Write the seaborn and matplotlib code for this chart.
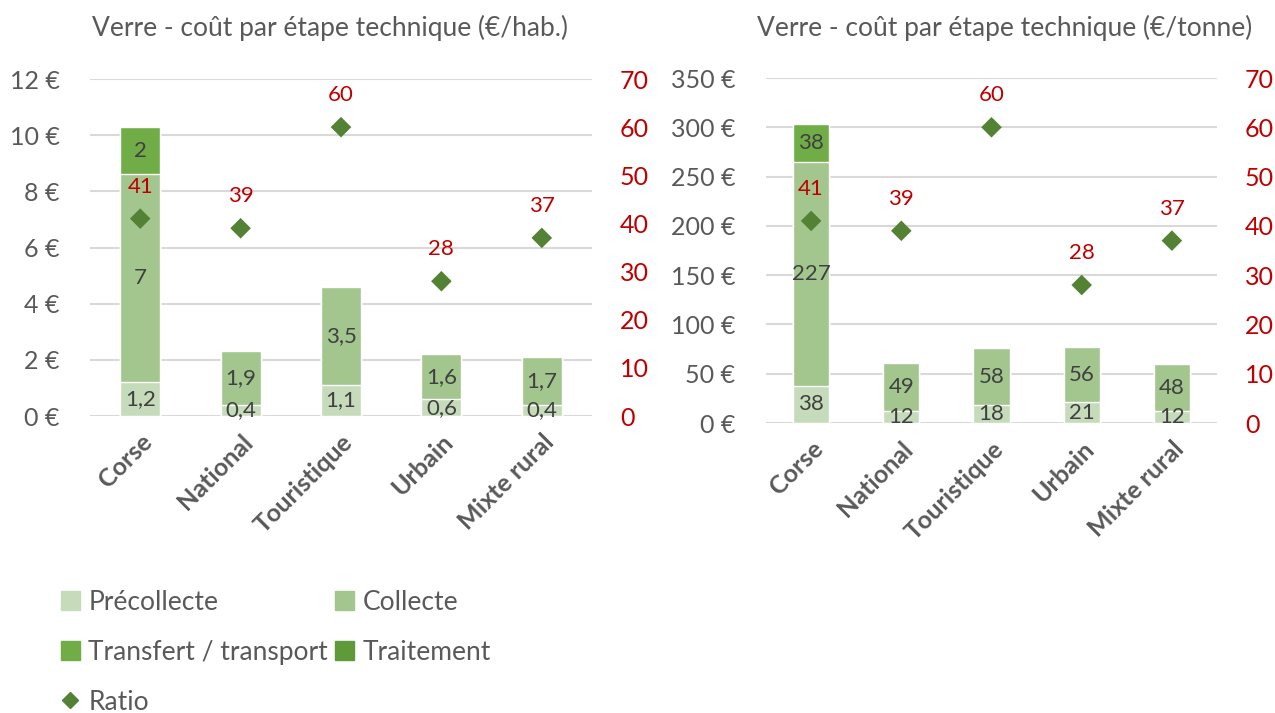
import numpy as np
import pandas as pd
import matplotlib
matplotlib.use("Agg")
import matplotlib.pyplot as plt
from matplotlib.lines import Line2D
from matplotlib.patches import Patch
import seaborn as sns

# data
categories = ["Corse", "National", "Touristique", "Urbain", "Mixte rural"]
ratio = [41, 39, 60, 28, 37]

hab_precollecte = [1.2, 0.4, 1.1, 0.6, 0.4]
hab_collecte = [7.4, 1.9, 3.5, 1.6, 1.7]
hab_transfert = [1.7, 0, 0, 0, 0]
hab_traitement = [0, 0, 0, 0, 0]
hab_labels_pre = ["1,2", "0,4", "1,1", "0,6", "0,4"]
hab_labels_col = ["7", "1,9", "3,5", "1,6", "1,7"]
hab_labels_tr = ["2", "", "", "", ""]

t_precollecte = [38, 12, 18, 21, 12]
t_collecte = [227, 49, 58, 56, 48]
t_transfert = [38, 0, 0, 0, 0]
t_traitement = [0, 0, 0, 0, 0]
t_labels_pre = ["38", "12", "18", "21", "12"]
t_labels_col = ["227", "49", "58", "56", "48"]
t_labels_tr = ["38", "", "", "", ""]

c_pre = "#C5DBBA"
c_col = "#A3C68F"
c_tr = "#70AD47"
c_trait = "#5F9A3A"
c_ratio = "#548235"
red = "#C00000"
grey = "#595959"

sns.set_theme(style="white")
plt.rcParams["font.family"] = ["Lato", "DejaVu Sans"]

fig = plt.figure(figsize=(12.75, 7.13), dpi=100)


def draw(ax, pre, col, tr, trait, labels, ymax, ystep):
    df = pd.DataFrame({"cat": categories, "pre": pre, "col": col, "tr": tr, "trait": trait})
    df["s1"] = df["pre"]
    df["s2"] = df["s1"] + df["col"]
    df["s3"] = df["s2"] + df["tr"]
    df["s4"] = df["s3"] + df["trait"]
    for key, color in [("s4", c_trait), ("s3", c_tr), ("s2", c_col), ("s1", c_pre)]:
        sns.barplot(data=df, x="cat", y=key, color=color, saturation=1, width=0.4,
                    ax=ax, zorder=2)
    # segment labels
    for i in range(len(categories)):
        bounds = [0, df["s1"][i], df["s2"][i], df["s3"][i]]
        for j, lab in enumerate(labels):
            if lab[i]:
                ax.text(i, (bounds[j] + bounds[j + 1]) / 2, lab[i], ha="center",
                        va="center", fontsize=16, color="#404040", zorder=4)
    ax.set_ylim(0, ymax)
    ax.set_xlim(-0.5, len(categories) - 0.5)
    ax.set_yticks(np.arange(0, ymax + 1e-9, ystep))
    ax.set_yticklabels([f"{int(v)} €" for v in np.arange(0, ymax + 1e-9, ystep)])
    ax.yaxis.grid(True, color="#D9D9D9", linewidth=1.5, zorder=0)
    ax.set_axisbelow(True)
    ax.tick_params(axis="y", length=0, pad=22, labelsize=18, labelcolor=grey)
    ax.tick_params(axis="x", length=0, pad=10)
    ax.set_xlabel("")
    ax.set_ylabel("")
    ax.set_xticks(range(len(categories)))
    ax.set_xticklabels(categories, rotation=45, ha="right", rotation_mode="anchor",
                       fontsize=18, fontweight="bold", color=grey)
    for s in ax.spines.values():
        s.set_visible(False)

    ax2 = ax.twinx()
    sns.scatterplot(x=list(range(len(categories))), y=ratio, marker="D", s=110,
                    color=c_ratio, edgecolor="none", ax=ax2, zorder=5)
    for i, r in enumerate(ratio):
        ax2.annotate(str(r), (i, r), xytext=(0, 23), textcoords="offset points",
                     ha="center", va="center", fontsize=16, color=red)
    ax2.set_ylim(0, 70)
    ax2.set_yticks(range(0, 71, 10))
    ax2.tick_params(axis="y", length=0, pad=20, labelsize=18, labelcolor=red)
    ax2.set_xlim(-0.5, len(categories) - 0.5)
    for s in ax2.spines.values():
        s.set_visible(False)
    ax2.grid(False)
    return ax2


ax1 = fig.add_axes([0.0706, 0.4165, 0.3937, 0.4727])
r1 = draw(ax1, hab_precollecte, hab_collecte, hab_transfert, hab_traitement,
          [hab_labels_pre, hab_labels_col, hab_labels_tr], 12, 2)

ax2 = fig.add_axes([0.6008, 0.4067, 0.3537, 0.4839])
r2 = draw(ax2, t_precollecte, t_collecte, t_transfert, t_traitement,
          [t_labels_pre, t_labels_col, t_labels_tr], 350, 50)

fig.text(330 / 1275, 1 - 28 / 713, "Verre - coût par étape technique (€/hab.)",
         ha="center", va="center", fontsize=19, color=grey)
fig.text(1005 / 1275, 1 - 28 / 713, "Verre - coût par étape technique (€/tonne)",
         ha="center", va="center", fontsize=19, color=grey)

handles = [
    Patch(color=c_pre, label="Précollecte"),
    Patch(color=c_tr, label="Transfert / transport"),
    Line2D([], [], marker="D", color=c_ratio, linestyle="none", markersize=8, label="Ratio"),
    Patch(color=c_col, label="Collecte"),
    Patch(color=c_trait, label="Traitement"),
]
leg = fig.legend(handles=handles, ncol=2, loc="upper left",
                 bbox_to_anchor=(50 / 1275, 1 - 579 / 713), frameon=False,
                 fontsize=19, labelspacing=0.95, handlelength=0.75, handleheight=0.75,
                 handletextpad=0.3, columnspacing=0.25, borderaxespad=0)
for t in leg.get_texts():
    t.set_color(grey)

fig.savefig("out.png", dpi=100)
